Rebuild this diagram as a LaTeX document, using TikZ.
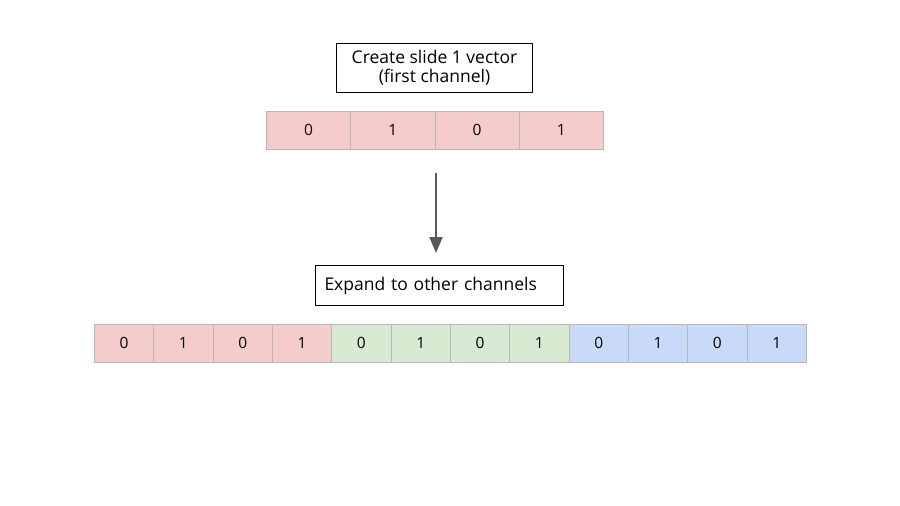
\documentclass[tikz,border=0pt]{standalone}
\usepackage{fontspec}
\setmainfont{Open Sans}
\usetikzlibrary{arrows.meta}
\definecolor{cellred}{HTML}{F4CCCC}
\definecolor{cellgreen}{HTML}{D9EAD3}
\definecolor{cellblue}{HTML}{C9DAF8}
\definecolor{cellline}{HTML}{B7B7B7}
\definecolor{arrowgrey}{HTML}{595959}
\tikzset{
  cell/.style={draw=cellline, line width=0.8pt, inner sep=0pt, anchor=north west,
    minimum height=38pt, font=\fontsize{15.5}{17}\selectfont},
  label box/.style={draw=black, line width=1pt, inner sep=0pt, anchor=north west,
    font=\fontsize{17.5}{19}\selectfont}
}
\begin{document}
\begin{tikzpicture}[x=1pt, y=-1pt, >=Triangle]
  \useasboundingbox (0,0) rectangle (900,506);

  % first channel
  \node [label box, minimum width=196pt, minimum height=49pt, align=center] (create) at (336,43)
    {Create slide 1 vector\\(first channel)};
  \foreach \v [count=\i] in {0,1,0,1}
    \node [cell, fill=cellred, minimum width=84.25pt] (t\i) at ({266+(\i-1)*84.25},111) {\v};

  \coordinate (arrow start) at (436,173);
  \coordinate (arrow end) at (436,253);
  \draw [->, arrowgrey, line width=2pt, >={Triangle[length=16pt, width=13pt]}] (arrow start) -- (arrow end);

  % all channels
  \node [label box, minimum height=40pt, inner xsep=9pt, text width=230pt, align=left] (expand) at (315,265)
    {Expand to other channels};
  \foreach \v [count=\i] in {0,1,0,1}
    \node [cell, fill=cellred, minimum width=59.33pt] (b\i) at ({94+(\i-1)*59.33},324) {\v};
  \foreach \v [count=\i from 5] in {0,1,0,1}
    \node [cell, fill=cellgreen, minimum width=59.33pt] (b\i) at ({94+(\i-1)*59.33},324) {\v};
  \foreach \v [count=\i from 9] in {0,1,0,1}
    \node [cell, fill=cellblue, minimum width=59.33pt] (b\i) at ({94+(\i-1)*59.33},324) {\v};
\end{tikzpicture}
\end{document}
